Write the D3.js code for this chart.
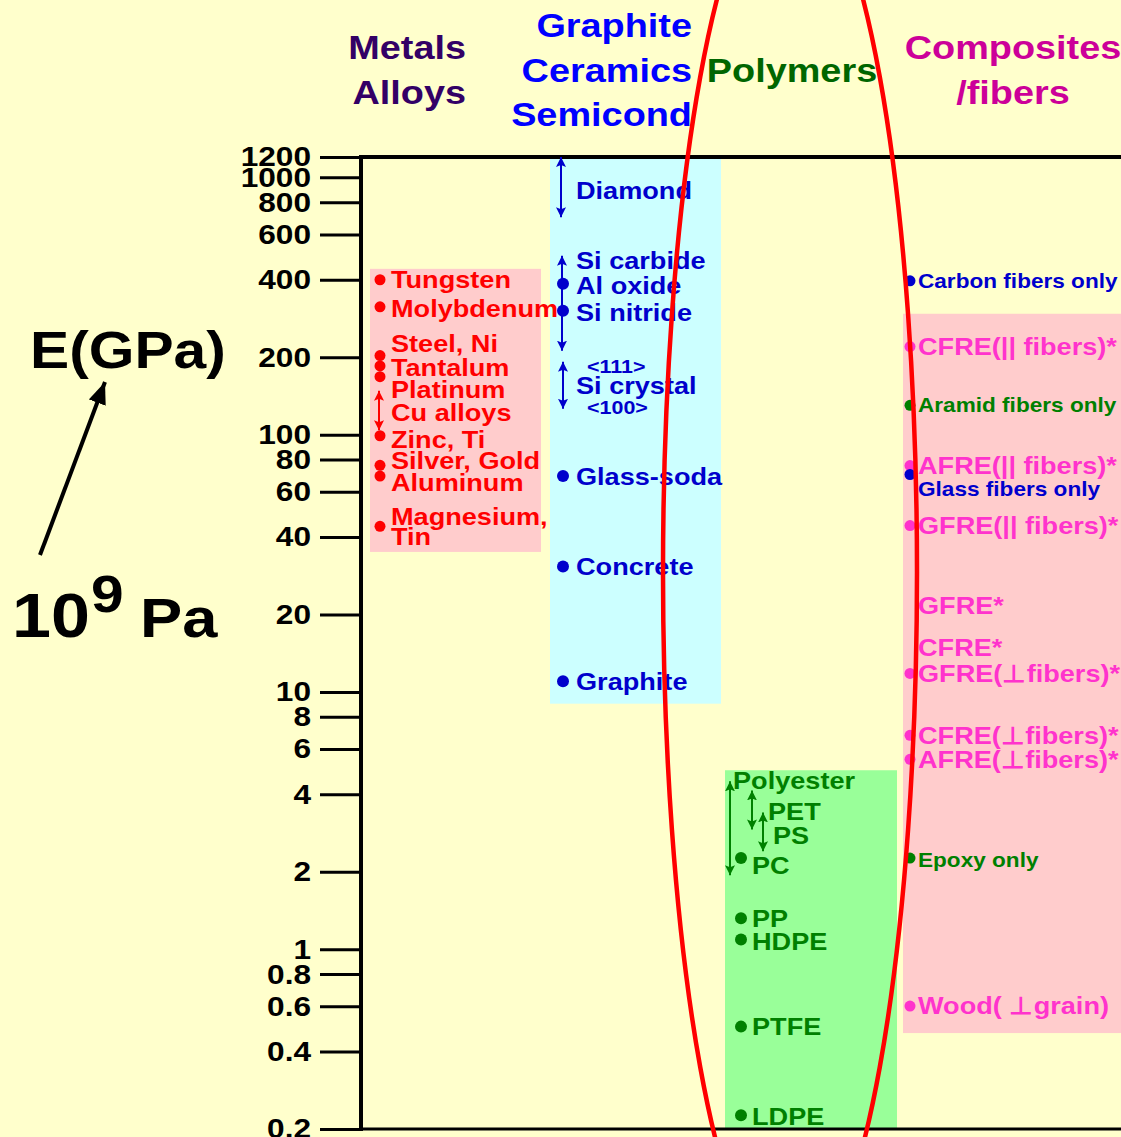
<!DOCTYPE html>
<html>
<head>
<meta charset="utf-8">
<script src="https://cdn.jsdelivr.net/npm/d3@7"></script>
<style>
  body { margin: 0; background: #FFFFCC; }
  svg text { font-family: "Liberation Sans", Arial, sans-serif; font-weight: bold; }
</style>
</head>
<body>
<div id="chart"></div>
<script>
var width = 1121, height = 1137;
var SX = 1.13; // slide text is a little wider than plain Arial

// y axis ticks, GPa
var tickValues = [0.2, 0.4, 0.6, 0.8, 1, 2, 4, 6, 8, 10, 20, 40, 60, 80, 100, 200, 400, 600, 800, 1000, 1200];

// shaded band of each class [low, high], GPa
var metalBand = [35, 441];
var ceramicBand = [9, 1200];
var polymerBand = [0.2, 4.96];
var compositeBand = [0.472, 295];

// metals / alloys
var metalDots = [400, 314, 203, 185, 168, 99, 76, 69, 44];
var metalRanges = [[104, 148]]; // Cu alloys
var metalLabels = [["Tungsten", 400], ["Molybdenum", 308], ["Steel, Ni", 226], ["Tantalum", 182],
  ["Platinum", 150], ["Cu alloys", 122], ["Zinc, Ti", 96], ["Silver, Gold", 79],
  ["Aluminum", 65], ["Magnesium,", 48], ["Tin", 40]];

// graphite / ceramics / semiconductors
var ceramicDots = [386, 303, 69, 30.7, 11];
var ceramicRanges = [[700, 1200], [212, 496], [126, 192]]; // diamond, SiC..Si3N4, Si crystal
var ceramicLabels = [["Diamond", 887], ["Si carbide", 474], ["Al oxide", 379], ["Si nitride", 298],
  ["Si crystal", 155], ["Glass-soda", 69], ["Concrete", 30.7], ["Graphite", 11]];
var siCrystalLabels = [["<111>", 185], ["<100>", 128]];

// polymers
var polymerDots = [2.26, 1.32, 1.09, 0.5, 0.226];
var polymerRanges = [["Polyester", 1.94, 4.49], ["PET", 2.92, 4.14], ["PS", 2.40, 3.40]];
var polymerLabels = [["Polyester", 4.53], ["PET", 3.43], ["PS", 2.77], ["PC", 2.12],
  ["PP", 1.31], ["HDPE", 1.07], ["PTFE", 0.5], ["LDPE", 0.224]];

// composites / fibers
var compositeDots = [220, 75.8, 44.3, 11.8, 6.78, 5.47, 0.601];
var compositeLabels = [["CFRE(|| fibers)*", 220], ["AFRE(|| fibers)*", 75.8], ["GFRE(|| fibers)*", 44.3],
  ["GFRE*", 21.7], ["CFRE*", 14.9], ["GFRE(\u22A5fibers)*", 11.8], ["CFRE(\u22A5fibers)*", 6.78],
  ["AFRE(\u22A5fibers)*", 5.47], ["Wood( \u22A5grain)", 0.601]];
var fiberNames = ["Carbon fibers only", "Aramid fibers only", "Glass fibers only", "Epoxy only"];
var fiberDots = [396, 130, 70, 2.26];
var fiberLabelE = [396, 130, 61.7, 2.22];

var y = d3.scaleLog().domain([0.2, 1200]).range([1129, 157]);

var svg = d3.select("#chart").append("svg")
    .attr("width", width)
    .attr("height", height);

svg.append("rect").attr("width", width).attr("height", height).style("fill", "#FFFFCC");

// arrow heads
var defs = svg.append("defs");
var headColors = {red: "#FF0000", blue: "#0000CC", green: "#008000"};
Object.keys(headColors).forEach(function(k) {
    defs.append("marker")
        .attr("id", "head-" + k)
        .attr("viewBox", "0 0 10 10")
        .attr("refX", 10).attr("refY", 5)
        .attr("markerWidth", 10).attr("markerHeight", 10)
        .attr("markerUnits", "userSpaceOnUse")
        .attr("orient", "auto-start-reverse")
        .append("path").attr("d", "M0,0 L10,5 L0,10 L2,5 Z")
        .style("fill", headColors[k]);
});
defs.append("marker")
    .attr("id", "head-big")
    .attr("viewBox", "0 0 22 18")
    .attr("refX", 22).attr("refY", 9)
    .attr("markerWidth", 22).attr("markerHeight", 18)
    .attr("markerUnits", "userSpaceOnUse")
    .attr("orient", "auto")
    .append("path").attr("d", "M0,0 L22,9 L0,18 Z")
    .style("fill", "#000");

// class bands
function band(x0, x1, range, color) {
    svg.append("rect")
        .attr("x", x0).attr("width", x1 - x0)
        .attr("y", y(range[1])).attr("height", y(range[0]) - y(range[1]))
        .style("fill", color);
}
band(370, 541, metalBand, "#FFCCCC");
band(550, 721, ceramicBand, "#CCFFFF");
band(725, 897, polymerBand, "#99FF99");
band(903, width, compositeBand, "#FFCCCC");

// axis
var axisX = 361;
var axis = d3.axisLeft(y)
    .tickValues(tickValues)
    .tickFormat(function(d) { return String(d); })
    .tickSize(41)
    .tickSizeOuter(0);
var gAxis = svg.append("g").attr("transform", "translate(" + axisX + ",0)").call(axis);
gAxis.select(".domain").remove();
gAxis.selectAll(".tick line").style("stroke", "#000").style("stroke-width", 3);
gAxis.selectAll(".tick text")
    .attr("x", -50 / SX)
    .attr("transform", "scale(" + SX + ",1)")
    .style("font-size", "28px")
    .style("fill", "#000");

// frame
svg.append("line").attr("x1", axisX).attr("x2", axisX).attr("y1", y(1200) - 2).attr("y2", y(0.2) + 2)
    .style("stroke", "#000").style("stroke-width", 4);
svg.append("line").attr("x1", axisX).attr("x2", width).attr("y1", y(1200)).attr("y2", y(1200))
    .style("stroke", "#000").style("stroke-width", 4);
svg.append("line").attr("x1", axisX).attr("x2", width).attr("y1", y(0.2)).attr("y2", y(0.2))
    .style("stroke", "#000").style("stroke-width", 3);

// helpers
function drawDots(values, x, r, color) {
    svg.append("g").selectAll("circle").data(values).join("circle")
        .attr("cx", x)
        .attr("cy", function(d) { return y(d); })
        .attr("r", r)
        .style("fill", color);
}

function drawRanges(rows, x, color, head) {
    svg.append("g").selectAll("line").data(rows).join("line")
        .attr("x1", x).attr("x2", x)
        .attr("y1", function(d) { return y(d[0]); })
        .attr("y2", function(d) { return y(d[1]); })
        .style("stroke", color)
        .style("stroke-width", 2)
        .attr("marker-start", "url(#head-" + head + ")")
        .attr("marker-end", "url(#head-" + head + ")");
}

function drawLabels(rows, x, size, color) {
    svg.append("g").selectAll("text").data(rows).join("text")
        .attr("transform", function(d, i) {
            var xx = (typeof x === "function") ? x(d, i) : x;
            return "translate(" + xx + "," + y(d[1]) + ") scale(" + SX + ",1)";
        })
        .attr("dy", "0.35em")
        .style("font-size", size + "px")
        .style("fill", color)
        .text(function(d) { return d[0]; });
}

function plainText(x, yy, txt, size, color, anchor) {
    return svg.append("text")
        .attr("transform", "translate(" + x + "," + yy + ") scale(" + SX + ",1)")
        .attr("text-anchor", anchor || "start")
        .style("font-size", size + "px")
        .style("fill", color)
        .text(txt);
}

// metals
drawRanges(metalRanges, 379, "#FF0000", "red");
drawDots(metalDots, 380, 5.5, "#FF0000");
drawLabels(metalLabels, 391, 24, "#FF0000");

// ceramics
var ceramicArrowX = [561, 562, 563];
ceramicRanges.forEach(function(r, i) {
    drawRanges([r], ceramicArrowX[i], "#0000CC", "blue");
});
drawDots(ceramicDots, 563, 6, "#0000CC");
drawLabels(ceramicLabels, 576, 24, "#0000CC");
drawLabels(siCrystalLabels, 587, 19, "#0000CC");

// polymers
var polyArrowX = {Polyester: 730, PET: 752, PS: 763};
var polyLabelX = {Polyester: 733, PET: 768, PS: 773};
polymerRanges.forEach(function(r) {
    drawRanges([[r[1], r[2]]], polyArrowX[r[0]], "#008000", "green");
});
drawDots(polymerDots, 741, 6, "#008000");
drawLabels(polymerLabels, function(d) { return polyLabelX[d[0]] || 752; }, 24, "#008000");

// composites
drawDots(compositeDots, 910, 5.5, "#FF33CC");
drawLabels(compositeLabels, 918, 24, "#FF33CC");
var fiberColors = ["#0000CC", "#008000", "#0000CC", "#008000"];
fiberNames.forEach(function(name, i) {
    drawDots([fiberDots[i]], 910, 5.5, fiberColors[i]);
    drawLabels([[name, fiberLabelE[i]]], 918, 20, fiberColors[i]);
});

// column titles
plainText(466, 59, "Metals", 33.5, "#330066", "end");
plainText(466, 104, "Alloys", 33.5, "#330066", "end");
plainText(692, 37, "Graphite", 33.5, "#0000FF", "end");
plainText(692, 82, "Ceramics", 33.5, "#0000FF", "end");
plainText(692, 126, "Semicond", 33.5, "#0000FF", "end");
plainText(792, 82, "Polymers", 33.5, "#006600", "middle");
plainText(1013, 59, "Composites", 33.5, "#CC0099", "middle");
plainText(1013, 104, "/fibers", 33.5, "#CC0099", "middle");

// axis title
plainText(30, 368, "E(GPa)", 52, "#000");
plainText(12, 637, "10", 62, "#000");
plainText(91, 612, "9", 52, "#000");
plainText(140, 637, "Pa", 56, "#000");
svg.append("line")
    .attr("x1", 40).attr("y1", 555).attr("x2", 105).attr("y2", 382)
    .style("stroke", "#000").style("stroke-width", 4)
    .attr("marker-end", "url(#head-big)");

// red ellipse round the polymers column
svg.append("ellipse")
    .attr("cx", 790).attr("cy", 572)
    .attr("rx", 127).attr("ry", 700)
    .style("fill", "none")
    .style("stroke", "#FF0000")
    .style("stroke-width", 4.5);
</script>
</body>
</html>
